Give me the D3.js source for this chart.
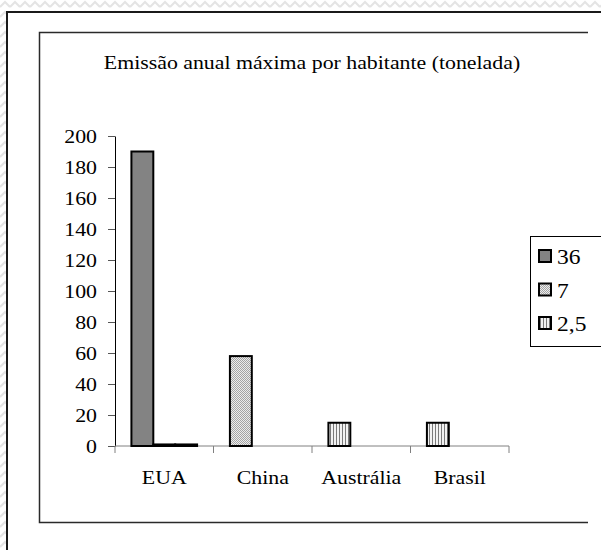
<!DOCTYPE html>
<html>
<head>
<meta charset="utf-8">
<script src="https://cdn.jsdelivr.net/npm/d3@7"></script>
<style>
  body { margin: 0; background: #fff; }
</style>
</head>
<body>
<svg id="chart" width="601" height="550"></svg>
<script>
const categories = ['EUA', 'China', 'Austrália', 'Brasil'];
const seriesNames = ['36', '7', '2,5'];
// one array per series, one value per category
const series36 = [190, 0, 0, 0];
const series7 = [1, 58, 0, 0];
const series25 = [1, 0, 15, 15];
const yTicks = [0, 20, 40, 60, 80, 100, 120, 140, 160, 180, 200];
const titleText = 'Emissão anual máxima por habitante (tonelada)';

const svg = d3.select('#chart');
const defs = svg.append('defs');

// zigzag background pattern
const zig = defs.append('pattern')
    .attr('id', 'zig').attr('width', 10).attr('height', 10)
    .attr('patternUnits', 'userSpaceOnUse');
zig.append('rect').attr('width', 10).attr('height', 10).attr('fill', '#fff');
zig.append('path').attr('d', 'M0,7 L5,2 L10,7').attr('fill', 'none')
    .attr('stroke', '#e4e4e4').attr('stroke-width', 2);

// bar fills
const checker = defs.append('pattern')
    .attr('id', 'pat1').attr('width', 2).attr('height', 2)
    .attr('patternUnits', 'userSpaceOnUse');
checker.append('rect').attr('width', 2).attr('height', 2).attr('fill', '#ececec');
checker.append('rect').attr('width', 1).attr('height', 1).attr('fill', '#a4a4a4');
checker.append('rect').attr('x', 1).attr('y', 1).attr('width', 1).attr('height', 1).attr('fill', '#a4a4a4');

const stripes = defs.append('pattern')
    .attr('id', 'pat2').attr('width', 3).attr('height', 3)
    .attr('patternUnits', 'userSpaceOnUse');
stripes.append('rect').attr('width', 3).attr('height', 3).attr('fill', '#f2f2f2');
stripes.append('rect').attr('width', 1).attr('height', 3).attr('fill', '#7a7a7a');

const fills = ['#838383', 'url(#pat1)', 'url(#pat2)'];

// background + frames
svg.append('rect').attr('width', 601).attr('height', 550).attr('fill', 'url(#zig)');
svg.append('rect').attr('x', 7).attr('y', 12).attr('width', 620).attr('height', 560)
    .attr('fill', '#fff').attr('stroke', '#1a1a1a').attr('stroke-width', 2);
svg.append('path').attr('d', 'M588,32.5 H39.5 V522.5 H588')
    .attr('fill', 'none').attr('stroke', '#2a2a2a').attr('stroke-width', 1.5);

// stretched serif text helper
function label(g, x, y, str, size, anchor) {
    return g.append('text')
        .attr('transform', `translate(${x},${y}) scale(1.12,1)`)
        .attr('text-anchor', anchor)
        .attr('dominant-baseline', 'central')
        .style('font-family', '"Liberation Serif", "Times New Roman", serif')
        .style('font-size', size + 'px')
        .style('fill', '#000')
        .text(str);
}

label(svg, 312, 62, titleText, 19.5, 'middle');

const xScale = d3.scaleBand().domain(categories).range([115, 509]);
const yScale = d3.scaleLinear().domain([0, 200]).range([446, 136]);
const slot = d3.scaleBand().domain([0, 1, 2]).range([0, xScale.bandwidth()])
    .paddingInner(0).paddingOuter(0.75);

// y axis
const yAxis = svg.append('g').attr('transform', 'translate(115,0)')
    .call(d3.axisLeft(yScale).tickValues(yTicks).tickSize(7).tickSizeOuter(0).tickPadding(11));
yAxis.select('.domain').attr('stroke', '#000');
yAxis.selectAll('.tick line').attr('stroke', '#555');
yAxis.selectAll('.tick text').remove();
yTicks.forEach(v => label(svg, 97, yScale(v), String(v), 19.5, 'end'));

// x axis with ticks at category borders
const xg = svg.append('g');
xg.append('line').attr('x1', 115).attr('x2', 509)
    .attr('y1', yScale(0)).attr('y2', yScale(0)).attr('stroke', '#808080');
const borders = categories.map(c => xScale(c)).concat([xScale.range()[1]]);
xg.selectAll('line.tk').data(borders).join('line').attr('class', 'tk')
    .attr('x1', d => d).attr('x2', d => d)
    .attr('y1', yScale(0)).attr('y2', yScale(0) + 7).attr('stroke', '#808080');
categories.forEach(c => label(svg, xScale(c) + xScale.bandwidth() / 2, 477, c, 19.5, 'middle'));

// bars: non-zero values are packed from the left of each category
const allSeries = [series36, series7, series25];
const bars = [];
categories.forEach((c, ci) => {
    let k = 0;
    allSeries.forEach((s, si) => {
        if (s[ci] > 0) { bars.push({ cat: c, series: si, slot: k, value: s[ci] }); k++; }
    });
});
svg.append('g').selectAll('rect').data(bars).join('rect')
    .attr('x', d => xScale(d.cat) + slot(d.slot))
    .attr('y', d => yScale(d.value))
    .attr('width', slot.bandwidth())
    .attr('height', d => yScale(0) - yScale(d.value))
    .attr('fill', d => fills[d.series])
    .attr('stroke', '#000').attr('stroke-width', 2);

// legend
const lg = svg.append('g');
lg.append('rect').attr('x', 530.5).attr('y', 236.5).attr('width', 90).attr('height', 110)
    .attr('fill', '#fff').attr('stroke', '#000').attr('stroke-width', 1);
const itemY = d3.scalePoint().domain(seriesNames).range([256, 323]);
seriesNames.forEach((n, i) => {
    lg.append('rect').attr('x', 539).attr('y', itemY(n) - 6).attr('width', 12).attr('height', 12)
        .attr('fill', fills[i]).attr('stroke', '#000').attr('stroke-width', 2);
    label(lg, 557, itemY(n) + 1, n, 21, 'start');
});
</script>
</body>
</html>
